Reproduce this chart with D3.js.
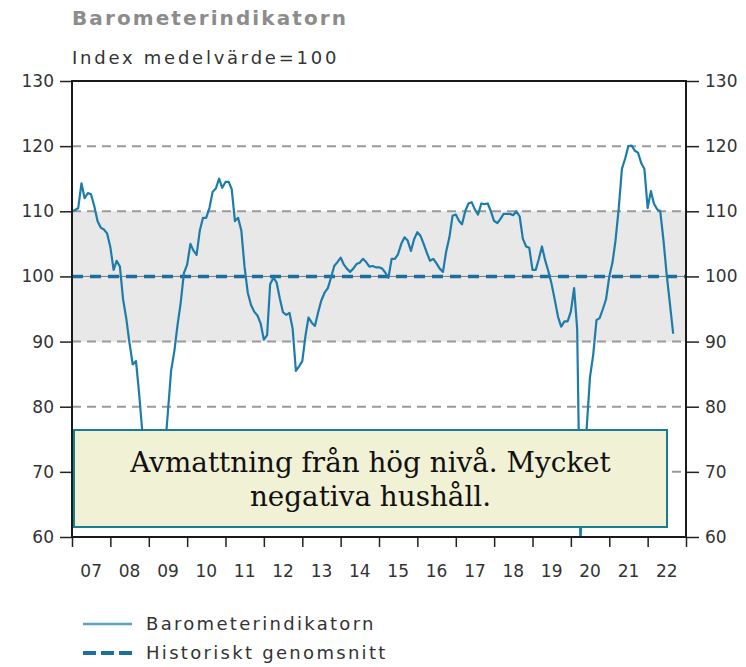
<!DOCTYPE html>
<html lang="sv">
  <head>
    <meta charset="UTF-8" />
    <title>Barometerindikatorn</title>
    <style>
      body { margin: 0; background: #fff; }
      text { font-family: 'DejaVu Sans', Verdana, sans-serif; }
    </style>
    <script src="https://d3js.org/d3.v7.min.js"></script>
  </head>
  <body>
    <div class="d3Chart"></div>
    <script>
      // månadsvärden, jan 2007 - sep 2022
      const barometer = [
        110, 110.2, 110.5, 114.3, 112, 112.8, 112.6, 110.8, 108.5, 107.5, 107.2, 106.6,
        104.5, 101, 102.4, 101.5, 96.5, 93.5, 89.8, 86.5, 87, 82, 76, 72,
        69, 67, 66, 67, 69.5, 73, 79, 85.5, 88.5, 92.5, 96, 100.5,
        101.8, 105, 104, 103.3, 107, 109, 109, 110.5, 113, 113.5, 115, 113.6,
        114.5, 114.5, 113.4, 108.5, 109, 107, 101.5, 97.5, 95.6, 94.6, 94, 92.8,
        90.3, 91, 98.8, 99.8, 99.1, 96.6, 94.5, 94.1, 94.4, 92, 85.5, 86.2,
        87, 91, 93.7, 92.9, 92.4, 94.5, 96.3, 97.5, 98.2, 99.8, 101.6, 102.2,
        102.9, 101.8, 101.2, 100.7, 101.2, 101.9, 102.1, 102.7, 102.2, 101.5, 101.6, 101.4,
        101.4, 101.2, 100.6, 99.8, 102.7, 102.7, 103.4, 105, 106, 105.5, 103.9, 105.7,
        106.8, 106.2, 105, 103.6, 102.4, 102.7, 102, 101.2, 100.7, 103.8, 106, 109.3,
        109.5, 108.5, 108, 110, 111.2, 111.4, 110.3, 109.5, 111.2, 111.1, 111.2, 110,
        108.5, 108.2, 108.8, 109.6, 109.6, 109.6, 109.4, 110, 109.2, 105.8, 104.6, 104.4,
        101, 101, 102.6, 104.6, 102.5, 100.8, 98.9, 96.4, 93.8, 92.3, 93.1, 93.1,
        94.6, 98.2, 92, 59, 71, 77, 84.5, 88, 93.3, 93.6, 95, 96.5,
        100, 102.2, 105.5, 110.5, 116.5, 118.1, 120, 120.1, 119.3, 119, 117.4, 116.5,
        110.5, 113.1, 111.2, 110.3, 110, 105.5, 100.3, 95.8, 91.2
      ]
      const historicalMean = 100
      const normalBand = [90, 110]
      const yTicks = [60, 70, 80, 90, 100, 110, 120, 130]
      const gridLevels = [70, 80, 90, 110, 120]
      const yearLabels = ['07', '08', '09', '10', '11', '12', '13', '14', '15', '16', '17', '18', '19', '20', '21', '22']
      const seriesNames = ['Barometerindikatorn', 'Historiskt genomsnitt']
      const noteLines = ['Avmattning från hög nivå. Mycket', 'negativa hushåll.']

      const dates = barometer.map((v, i) => new Date(2007, i, 1))
      const yearStarts = d3.range(2007, 2024).map((y) => new Date(y, 0, 1))

      // canvas
      const width = 746
      const height = 667
      const margin = { top: 81, right: 60, bottom: 130, left: 72 }
      const svg = d3
        .select('.d3Chart')
        .append('svg')
        .attr('width', width)
        .attr('height', height)

      const x = d3
        .scaleTime()
        .domain([yearStarts[0], yearStarts[yearStarts.length - 1]])
        .range([margin.left, width - margin.right])
      const y = d3
        .scaleLinear()
        .domain([60, 130])
        .range([height - margin.bottom, margin.top])

      const x0 = x.range()[0]
      const x1 = x.range()[1]

      // titlar
      svg
        .append('text')
        .attr('x', x0)
        .attr('y', 25)
        .attr('fill', '#8c8c8c')
        .attr('font-weight', 'bold')
        .attr('font-size', 20)
        .attr('letter-spacing', 2.1)
        .text('Barometerindikatorn')
      svg
        .append('text')
        .attr('x', x0)
        .attr('y', 64)
        .attr('fill', '#333')
        .attr('font-size', 18)
        .attr('letter-spacing', 2.75)
        .text('Index medelvärde=100')

      svg
        .append('defs')
        .append('clipPath')
        .attr('id', 'plot')
        .append('rect')
        .attr('x', x0)
        .attr('y', y(130))
        .attr('width', x1 - x0)
        .attr('height', y(60) - y(130))

      // grått normalintervall
      svg
        .append('rect')
        .attr('x', x0)
        .attr('y', y(normalBand[1]))
        .attr('width', x1 - x0)
        .attr('height', y(normalBand[0]) - y(normalBand[1]))
        .attr('fill', '#e8e8e8')

      svg
        .append('g')
        .selectAll('line')
        .data(gridLevels)
        .join('line')
        .attr('x1', x0)
        .attr('x2', x1)
        .attr('y1', (d) => y(d))
        .attr('y2', (d) => y(d))
        .attr('stroke', '#9a9a9a')
        .attr('stroke-width', 2)
        .attr('stroke-dasharray', '9,6')

      svg
        .append('line')
        .attr('x1', x0)
        .attr('x2', x1)
        .attr('y1', y(historicalMean))
        .attr('y2', y(historicalMean))
        .attr('stroke', '#7a7a7a')
        .attr('stroke-width', 1)
      svg
        .append('line')
        .attr('x1', x0)
        .attr('x2', x1)
        .attr('y1', y(historicalMean))
        .attr('y2', y(historicalMean))
        .attr('stroke', '#1c6f9d')
        .attr('stroke-width', 3.5)
        .attr('stroke-dasharray', '11,7')

      const line = d3
        .line()
        .x((d, i) => x(dates[i]))
        .y((d) => y(d))

      svg
        .append('path')
        .datum(barometer)
        .attr('clip-path', 'url(#plot)')
        .attr('fill', 'none')
        .attr('stroke', '#1d7caa')
        .attr('stroke-width', 2.2)
        .attr('stroke-linejoin', 'round')
        .attr('d', line)

      // axlar
      const axisStyle = (g) => {
        g.select('.domain').remove()
        g.selectAll('line').attr('stroke', '#222').attr('stroke-width', 1.5)
        g.selectAll('text').attr('fill', '#333').attr('font-size', 17).attr('font-family', "'DejaVu Sans', sans-serif")
      }
      svg
        .append('g')
        .attr('transform', `translate(${x0},0)`)
        .call(d3.axisLeft(y).tickValues(yTicks).tickSize(12).tickPadding(6))
        .call(axisStyle)
      svg
        .append('g')
        .attr('transform', `translate(${x1},0)`)
        .call(d3.axisRight(y).tickValues(yTicks).tickSize(13).tickPadding(6))
        .call(axisStyle)
      svg
        .append('g')
        .attr('transform', `translate(0,${y(60)})`)
        .call(d3.axisBottom(x).tickValues(yearStarts).tickSize(10).tickFormat(''))
        .call(axisStyle)

      svg
        .append('g')
        .selectAll('text')
        .data(yearLabels)
        .join('text')
        .attr('x', (d, i) => (x(yearStarts[i]) + x(yearStarts[i + 1])) / 2)
        .attr('y', y(60) + 40)
        .attr('text-anchor', 'middle')
        .attr('fill', '#333')
        .attr('font-size', 17)
        .text((d) => d)

      svg
        .append('rect')
        .attr('x', x0)
        .attr('y', y(130))
        .attr('width', x1 - x0)
        .attr('height', y(60) - y(130))
        .attr('fill', 'none')
        .attr('stroke', '#1a1a1a')
        .attr('stroke-width', 2)

      // kommentarsruta
      svg
        .append('rect')
        .attr('x', x0 + 2)
        .attr('y', 430)
        .attr('width', 593)
        .attr('height', 97)
        .attr('fill', '#f1f1d5')
        .attr('stroke', '#167f8f')
        .attr('stroke-width', 2)
      svg
        .append('g')
        .selectAll('text')
        .data(noteLines)
        .join('text')
        .attr('x', x0 + 2 + 593 / 2)
        .attr('y', (d, i) => 472 + i * 34)
        .attr('text-anchor', 'middle')
        .attr('fill', '#111')
        .attr('font-size', 27.8)
        .style('font-family', "'DejaVu Serif', Georgia, serif")
        .text((d) => d)

      // legend
      const legend = svg.append('g').attr('transform', 'translate(83,624)')
      legend
        .append('line')
        .attr('x1', 0)
        .attr('x2', 49)
        .attr('stroke', '#5aa2c8')
        .attr('stroke-width', 2.5)
      legend
        .append('line')
        .attr('x1', 0)
        .attr('x2', 49)
        .attr('y1', 29)
        .attr('y2', 29)
        .attr('stroke', '#1c6f9d')
        .attr('stroke-width', 4)
        .attr('stroke-dasharray', '13,5')
      legend
        .selectAll('text')
        .data(seriesNames)
        .join('text')
        .attr('x', 63)
        .attr('y', (d, i) => i * 29 + 6)
        .attr('fill', '#333')
        .attr('font-size', 18)
        .attr('letter-spacing', 2.3)
        .text((d) => d)
    </script>
  </body>
</html>
